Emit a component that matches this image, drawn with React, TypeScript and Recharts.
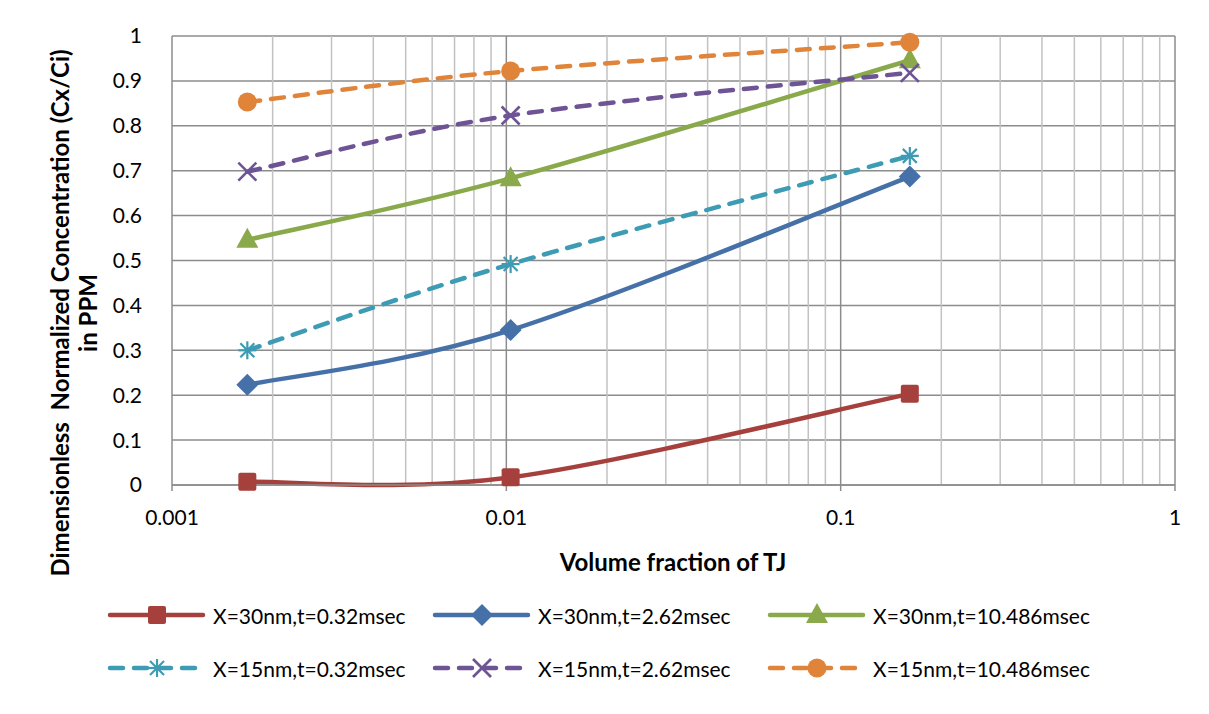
import React from 'react';
import { LineChart, Line, XAxis, YAxis, CartesianGrid, ReferenceLine } from 'recharts';

// volume fraction of TJ (log axis)
const fractions = [0.00168, 0.0103, 0.161];

const x30t032 = [0.007, 0.017, 0.203];
const x30t262 = [0.223, 0.345, 0.687];
const x30t10486 = [0.546, 0.683, 0.946];
const x15t032 = [0.3, 0.492, 0.733];
const x15t262 = [0.698, 0.823, 0.918];
const x15t10486 = [0.853, 0.922, 0.986];

const xTicks = [0.001, 0.01, 0.1, 1];
const xMinor = [
    0.002, 0.003, 0.004, 0.005, 0.006, 0.007, 0.008, 0.009,
    0.02, 0.03, 0.04, 0.05, 0.06, 0.07, 0.08, 0.09,
    0.2, 0.3, 0.4, 0.5, 0.6, 0.7, 0.8, 0.9,
];
const yTicks = [0, 0.1, 0.2, 0.3, 0.4, 0.5, 0.6, 0.7, 0.8, 0.9, 1];

type Shape = 'square' | 'diamond' | 'triangle' | 'star' | 'cross' | 'circle';

const series: { key: string; name: string; values: number[]; color: string; dashed: boolean; shape: Shape }[] = [
    { key: 's1', name: 'X=30nm,t=0.32msec', values: x30t032, color: '#A5403D', dashed: false, shape: 'square' },
    { key: 's2', name: 'X=30nm,t=2.62msec', values: x30t262, color: '#4571A8', dashed: false, shape: 'diamond' },
    { key: 's3', name: 'X=30nm,t=10.486msec', values: x30t10486, color: '#89A94A', dashed: false, shape: 'triangle' },
    { key: 's4', name: 'X=15nm,t=0.32msec', values: x15t032, color: '#3D9BB3', dashed: true, shape: 'star' },
    { key: 's5', name: 'X=15nm,t=2.62msec', values: x15t262, color: '#6E5495', dashed: true, shape: 'cross' },
    { key: 's6', name: 'X=15nm,t=10.486msec', values: x15t10486, color: '#E0843A', dashed: true, shape: 'circle' },
];

const data = fractions.map((f, i) => {
    const row: Record<string, number> = { x: f };
    series.forEach((s) => {
        row[s.key] = s.values[i];
    });
    return row;
});

const FONT = 'Lato, "Open Sans", sans-serif';

// Excel-like smoothed line (Catmull-Rom through the points)
const smoothCurve = (context: any) => {
    let pts: number[][] = [];
    return {
        areaStart() {},
        areaEnd() {},
        lineStart() {
            pts = [];
        },
        point(x: number, y: number) {
            pts.push([+x, +y]);
        },
        lineEnd() {
            const n = pts.length;
            if (!n) return;
            context.moveTo(pts[0][0], pts[0][1]);
            for (let i = 0; i < n - 1; i++) {
                const p0 = pts[Math.max(i - 1, 0)];
                const p1 = pts[i];
                const p2 = pts[i + 1];
                const p3 = pts[Math.min(i + 2, n - 1)];
                context.bezierCurveTo(
                    p1[0] + (p2[0] - p0[0]) / 6,
                    p1[1] + (p2[1] - p0[1]) / 6,
                    p2[0] - (p3[0] - p1[0]) / 6,
                    p2[1] - (p3[1] - p1[1]) / 6,
                    p2[0],
                    p2[1]
                );
            }
        },
    };
};

const Marker = ({ cx, cy, shape, color }: { cx: number; cy: number; shape: Shape; color: string }) => {
    switch (shape) {
        case 'square':
            return <rect x={cx - 9} y={cy - 9} width={18} height={18} rx={2} fill={color} />;
        case 'diamond':
            return <polygon points={`${cx},${cy - 11} ${cx + 11},${cy} ${cx},${cy + 11} ${cx - 11},${cy}`} fill={color} />;
        case 'triangle':
            return <polygon points={`${cx},${cy - 12} ${cx + 11},${cy + 8} ${cx - 11},${cy + 8}`} fill={color} />;
        case 'star':
            return (
                <g stroke={color} strokeWidth={2.2}>
                    <line x1={cx} y1={cy - 9} x2={cx} y2={cy + 9} />
                    <line x1={cx - 9} y1={cy} x2={cx + 9} y2={cy} />
                    <line x1={cx - 7} y1={cy - 7} x2={cx + 7} y2={cy + 7} />
                    <line x1={cx - 7} y1={cy + 7} x2={cx + 7} y2={cy - 7} />
                </g>
            );
        case 'cross':
            return (
                <g stroke={color} strokeWidth={2.6}>
                    <line x1={cx - 9} y1={cy - 9} x2={cx + 9} y2={cy + 9} />
                    <line x1={cx - 9} y1={cy + 9} x2={cx + 9} y2={cy - 9} />
                </g>
            );
        default:
            return <circle cx={cx} cy={cy} r={9.5} fill={color} />;
    }
};

const dotFor = (shape: Shape, color: string) => (props: any) => {
    if (props.cx == null || props.cy == null) return <g key={props.index} />;
    return <Marker key={props.index} cx={props.cx} cy={props.cy} shape={shape} color={color} />;
};

const legendCols = [107, 432, 767];
const legendRows = [615, 668];

export default function App() {
    return (
        <div style={{ position: 'relative', width: 1209, height: 714, margin: -8, background: '#fff', overflow: 'hidden', fontFamily: FONT }}>
            <div style={{ position: 'absolute', left: 7, top: 7, width: 1220, height: 730, border: '1px solid #8a8a8a' }} />
            <LineChart width={1209} height={714} data={data} margin={{ top: 36, right: 34, left: 0, bottom: 0 }}>
                <CartesianGrid vertical={false} stroke="#8c8c8c" strokeWidth={1.5} />
                {xMinor.map((v) => (
                    <ReferenceLine key={v} x={v} stroke="#c2c2c2" strokeWidth={1.5} />
                ))}
                {xTicks.map((v) => (
                    <ReferenceLine key={v} x={v} stroke="#8c8c8c" strokeWidth={1.5} />
                ))}
                <XAxis
                    dataKey="x"
                    type="number"
                    scale="log"
                    domain={[0.001, 1]}
                    ticks={xTicks}
                    allowDataOverflow
                    height={229}
                    axisLine={{ stroke: '#8c8c8c', strokeWidth: 1.5 }}
                    tickLine={{ stroke: '#8c8c8c', strokeWidth: 1.5 }}
                    tickSize={6}
                    tickMargin={19}
                    tick={{ fontSize: 21, fill: '#000', fontFamily: FONT }}
                    tickFormatter={(v: number) => String(v)}
                />
                <YAxis
                    type="number"
                    domain={[0, 1]}
                    ticks={yTicks}
                    width={172}
                    axisLine={false}
                    tickLine={false}
                    tickMargin={24}
                    tick={{ fontSize: 21, fill: '#000', fontFamily: FONT }}
                />
                {series.map((s) => (
                    <Line
                        key={s.key}
                        type={smoothCurve as any}
                        dataKey={s.key}
                        name={s.name}
                        stroke={s.color}
                        strokeWidth={4.5}
                        strokeDasharray={s.dashed ? '13 11' : undefined}
                        strokeLinecap="round"
                        dot={dotFor(s.shape, s.color)}
                        activeDot={false}
                        isAnimationActive={false}
                    />
                ))}
            </LineChart>

            {/* axis titles */}
            <div
                style={{
                    position: 'absolute',
                    left: 74,
                    top: 313,
                    transform: 'translate(-50%, -50%) rotate(-90deg)',
                    textAlign: 'center',
                    fontWeight: 700,
                    fontSize: 24,
                    lineHeight: '28px',
                    whiteSpace: 'nowrap',
                    color: '#000',
                }}
            >
                Dimensionless&nbsp; Normalized Concentration (Cx/Ci)
                <br />
                in PPM
            </div>
            <div
                style={{
                    position: 'absolute',
                    left: 673,
                    top: 561,
                    transform: 'translate(-50%, -50%)',
                    fontWeight: 700,
                    fontSize: 24,
                    whiteSpace: 'nowrap',
                    color: '#000',
                }}
            >
                Volume fraction of TJ
            </div>

            {/* legend */}
            {series.map((s, i) => {
                const left = legendCols[i % 3];
                const top = legendRows[Math.floor(i / 3)];
                return (
                    <div key={s.key} style={{ position: 'absolute', left, top: top - 15, height: 30, display: 'flex', alignItems: 'center' }}>
                        <svg width={100} height={30}>
                            <line
                                x1={3}
                                y1={15}
                                x2={96}
                                y2={15}
                                stroke={s.color}
                                strokeWidth={4.5}
                                strokeLinecap="round"
                                strokeDasharray={s.dashed ? '13 11' : undefined}
                            />
                            <Marker cx={50} cy={15} shape={s.shape} color={s.color} />
                        </svg>
                        <span style={{ marginLeft: 6, fontSize: 21, color: '#000', whiteSpace: 'nowrap' }}>{s.name}</span>
                    </div>
                );
            })}
        </div>
    );
}
